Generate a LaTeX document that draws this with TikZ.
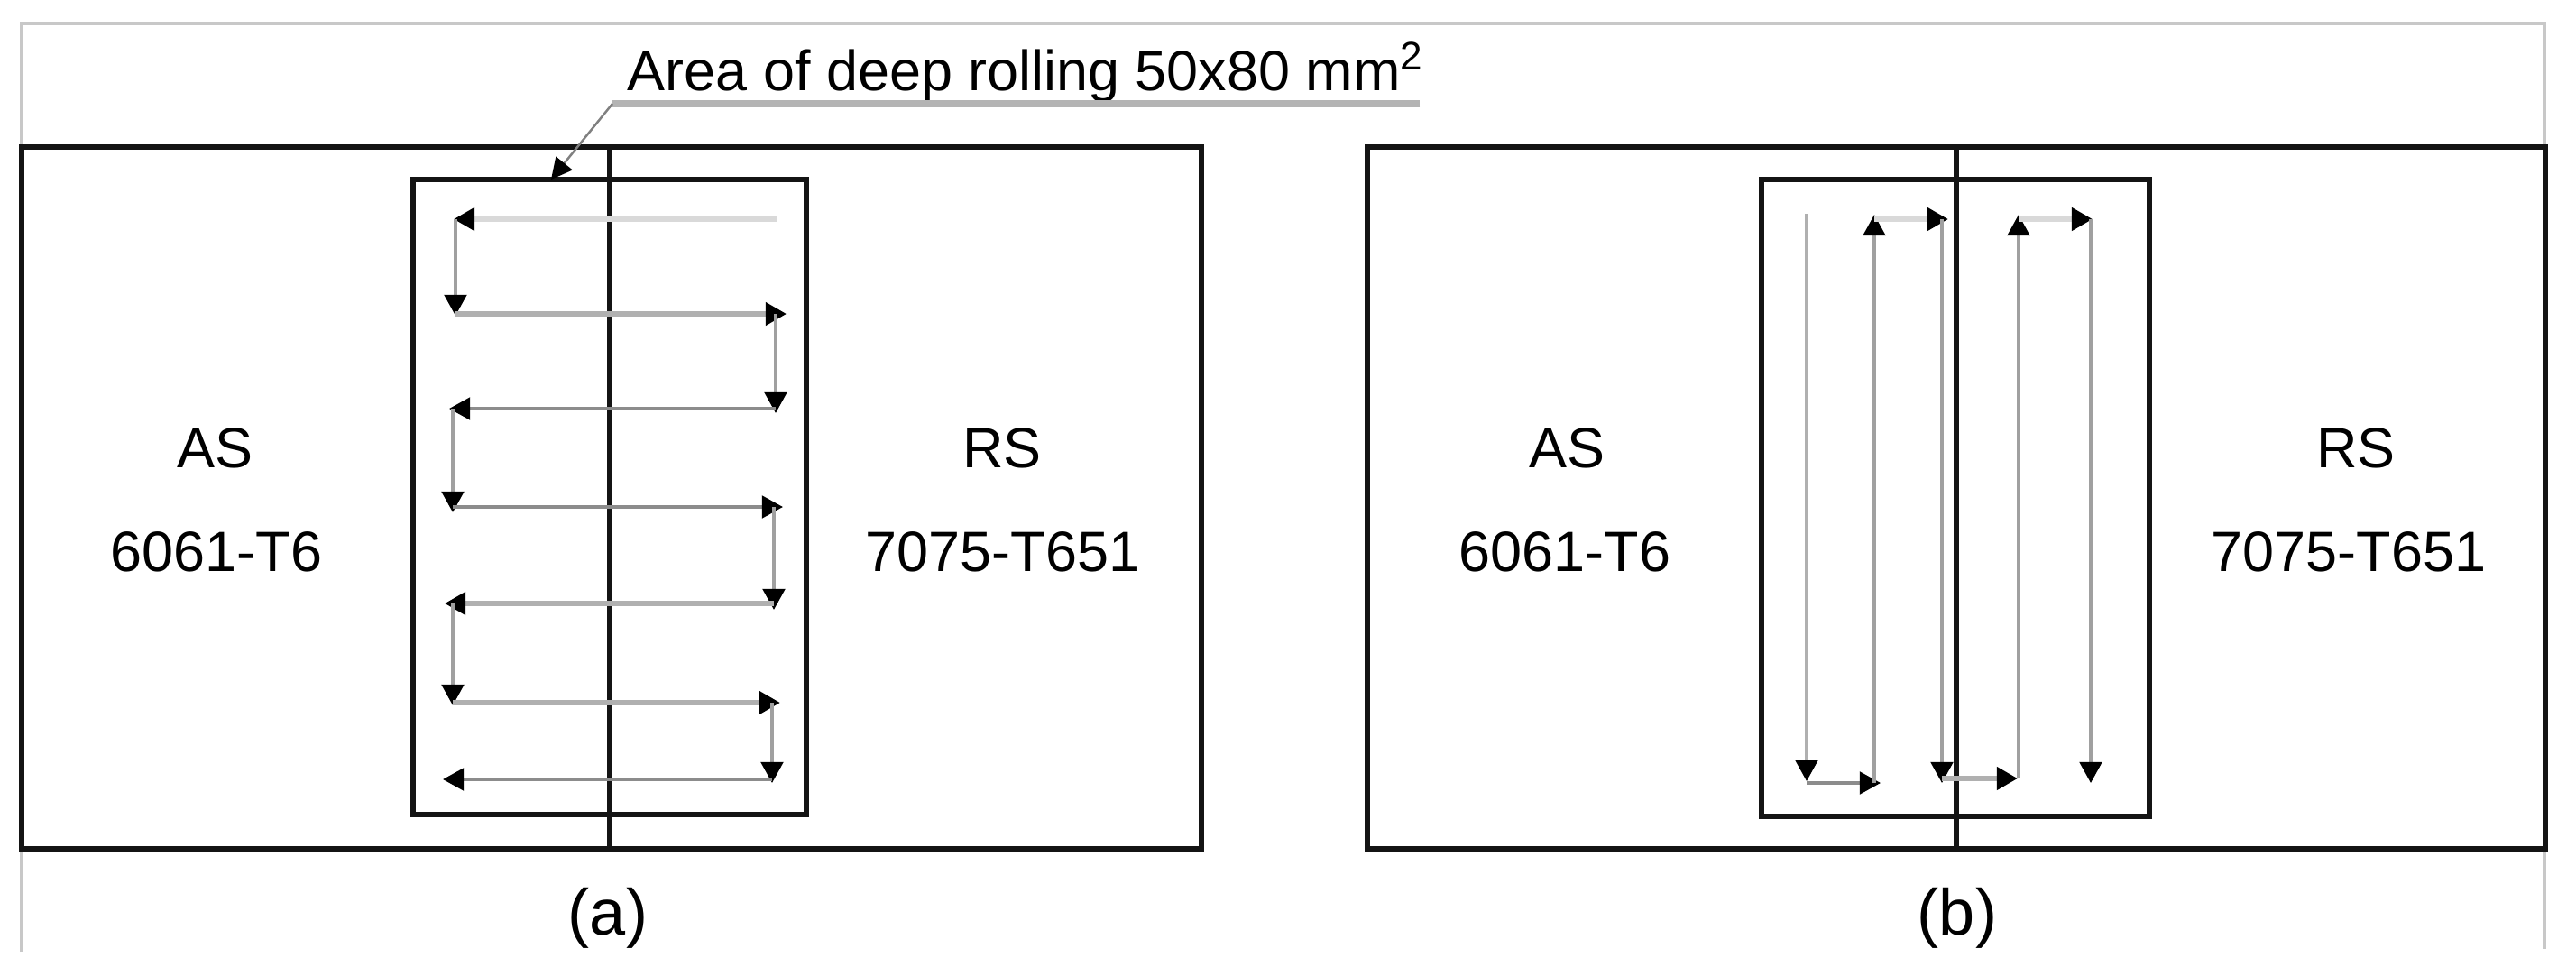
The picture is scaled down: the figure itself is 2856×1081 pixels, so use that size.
\documentclass[tikz,border=0pt]{standalone}
\usepackage{fontspec}
\setmainfont{Liberation Sans}
\usetikzlibrary{arrows.meta}
\definecolor{framegray}{HTML}{C8C8C8}
\definecolor{palegray}{HTML}{D9D9D9}
\definecolor{midgray}{HTML}{B0B0B0}
\definecolor{darkgray2}{HTML}{8C8C8C}
\definecolor{vgray}{HTML}{A0A0A0}
\definecolor{leadgray}{HTML}{B4B4B4}
\definecolor{edge}{HTML}{141414}
\tikzset{
  platebox/.style={line width=1.75pt, draw=edge},
  outerframe/.style={line width=0.9pt, draw=framegray},
  pathtip/.style={-{Triangle[length=6.6pt,width=7pt,color=black]}},
  paleseg/.style={pathtip, draw=palegray, line width=1.7pt},
  midseg/.style={pathtip, draw=midgray, line width=1.6pt},
  thinseg/.style={pathtip, draw=darkgray2, line width=1pt},
  vseg/.style={pathtip, draw=vgray, line width=1pt},
  lbl/.style={font=\fontsize{17.9}{20}\selectfont, anchor=base, inner sep=0pt},
  subcapt/.style={font=\fontsize{20.5}{24}\selectfont, anchor=base, inner sep=0pt},
}
\begin{document}
\begin{tikzpicture}[x=0.01cm,y=-0.01cm]
\useasboundingbox (0,0) rectangle (2856,1081);
\fill[white] (0,0) rectangle (2856,1081);
% outer light frame
\draw[outerframe] (24,1055) -- (24,26) -- (2821,26) -- (2821,1052);

% ---------- panel (a) ----------
\draw[platebox] (24,163) rectangle (1332,941);
\draw[platebox] (458,199) rectangle (894,903);
\draw[platebox] (676,163) -- (676,941);

% serpentine path (a)
\coordinate (a0) at (861,243);
\coordinate (a1) at (503,243);
\draw[paleseg] (a0) -- (a1);
\draw[vseg] (505,243) -- (505,350);
\draw[midseg] (505,348) -- (872,348);
\draw[vseg] (860,348) -- (860,458);
\draw[thinseg] (860,453) -- (498,453);
\draw[vseg] (502,453) -- (502,568);
\draw[thinseg] (502,562) -- (868,562);
\draw[vseg] (858,562) -- (858,676);
\draw[midseg] (858,669) -- (493,669);
\draw[vseg] (502,669) -- (502,782);
\draw[midseg] (502,779) -- (865,779);
\draw[vseg] (856,779) -- (856,868);
\draw[thinseg] (856,864) -- (491,864);

% labels (a)
\node[lbl] (asA) at (238,518) {AS};
\node[lbl] (matA1) at (240,633) {6061-T6};
\node[lbl] (rsA) at (1111,518) {RS};
\node[lbl] (matA2) at (1112,633) {7075-T651};
\node[subcapt] (capA) at (674,1036) {(a)};

% leader label
\node[lbl, anchor=base west] (area) at (695,100) {Area of deep rolling 50x80 mm\textsuperscript{2}};
\coordinate (lend) at (1574,115);
\coordinate (elbow) at (679,115);
\coordinate (ltip) at (611,199);
\draw[leadgray, line width=2pt] (lend) -- (elbow);
\draw[draw=gray, line width=0.7pt, -{Triangle[length=6.6pt,width=6.6pt,color=black]}] (elbow) -- (ltip);

% ---------- panel (b) ----------
\draw[platebox] (1516,163) rectangle (2822,941);
\draw[platebox] (1953,199) rectangle (2383,905);
\draw[platebox] (2169,163) -- (2169,941);

% serpentine path (b)
\draw[vseg, draw=midgray] (2003,237) -- (2003,866);
\draw[thinseg] (2003,868) -- (2085,868);
\draw[vseg] (2078,868) -- (2078,238);
\draw[paleseg] (2078,243) -- (2160,243);
\draw[vseg] (2153,243) -- (2153,868);
\draw[paleseg, draw=midgray] (2153,863) -- (2237,863);
\draw[vseg] (2238,863) -- (2238,238);
\draw[paleseg] (2238,243) -- (2320,243);
\draw[vseg] (2318,243) -- (2318,868);

% labels (b)
\node[lbl] (asB) at (1737,518) {AS};
\node[lbl] (matB1) at (1735,633) {6061-T6};
\node[lbl] (rsB) at (2612,518) {RS};
\node[lbl] (matB2) at (2604,633) {7075-T651};
\node[subcapt] (capB) at (2170,1036) {(b)};
\end{tikzpicture}
\end{document}
